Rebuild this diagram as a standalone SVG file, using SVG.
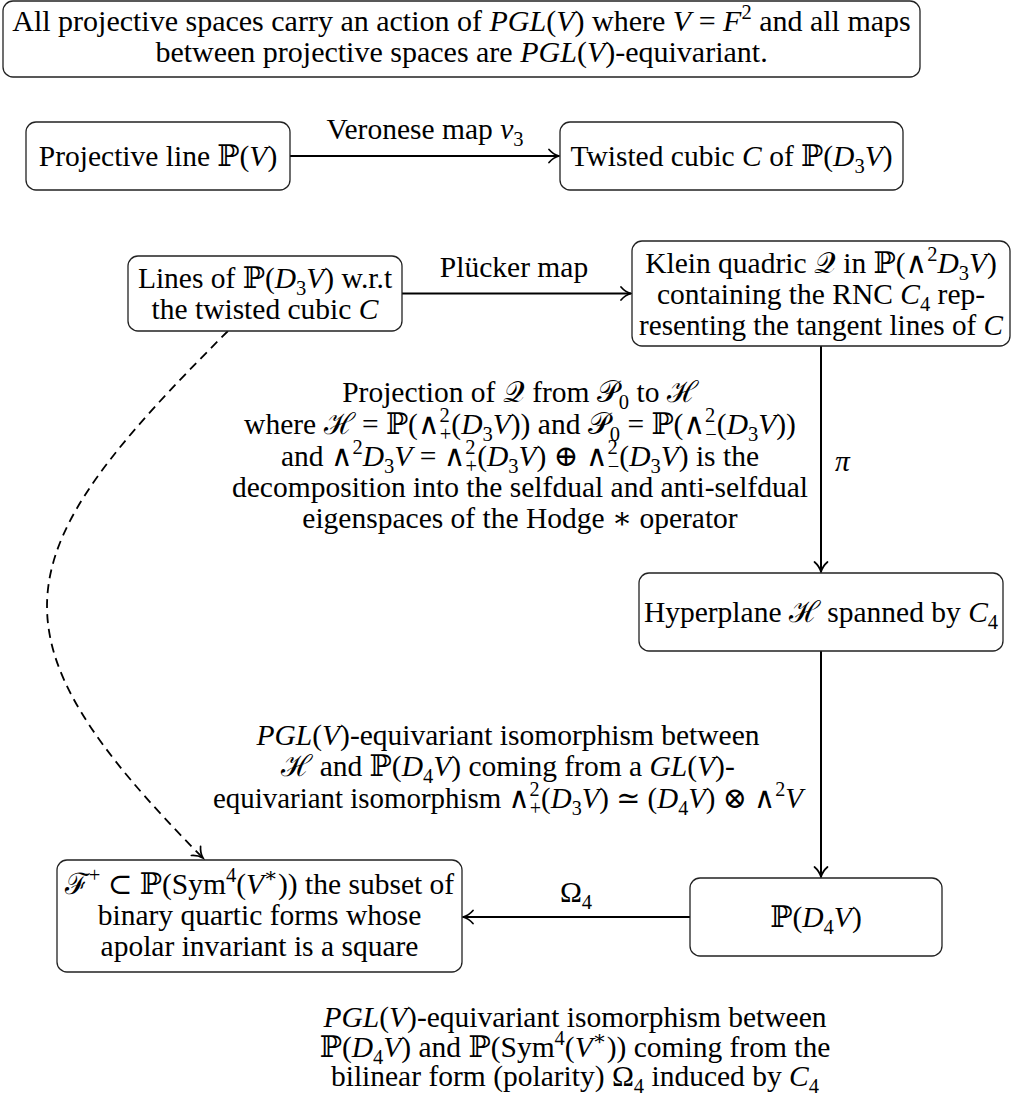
<svg xmlns="http://www.w3.org/2000/svg" width="1012" height="1097" viewBox="0 0 1012 1097" font-family="'Liberation Serif', 'DejaVu Serif', serif">
<defs>
<style>
text{font-family:"Liberation Serif","DejaVu Serif",serif;font-size:29.5px;fill:#000;text-anchor:middle}
.i{font-style:italic}
.s{font-size:20.5px}
.box{fill:#fff;stroke:#222;stroke-width:1.3}
.c{fill:none;stroke:#000;stroke-width:2}
.d{fill:none;stroke:#000;stroke-width:1.8;stroke-dasharray:9 6}
</style>
<marker id="ah" viewBox="-13 -8 16 16" refX="0" refY="0" markerWidth="16" markerHeight="16" markerUnits="userSpaceOnUse" orient="auto">
<path d="M-10,-6.5 C-7,-3 -2.5,-0.7 0,0 C-2.5,0.7 -7,3 -10,6.5" fill="none" stroke="#000" stroke-width="1.7" stroke-dasharray="none" stroke-linecap="round"/>
</marker>
</defs>
<rect width="1012" height="1097" fill="#fff"/>

<g id="connectors">
<path class="c" d="M290,156 H559" marker-end="url(#ah)"/>
<path class="c" d="M402,293.5 H631" marker-end="url(#ah)"/>
<path class="c" d="M821,346 V572" marker-end="url(#ah)"/>
<path class="c" d="M821,651 V877" marker-end="url(#ah)"/>
<path class="c" d="M690,917 H463" marker-end="url(#ah)"/>
<path class="d" d="M228,331 C3,555 -20,633 203,858" marker-end="url(#ah)"/>
<text x="425" y="139">Veronese map <tspan class="i">ν</tspan><tspan class="s" dy="7">3</tspan></text>
<text x="514" y="277">Plücker map</text>
<text x="835" y="471" class="i" style="text-anchor:start">π</text>
<text x="576" y="902">Ω<tspan class="s" dy="7">4</tspan></text>
<g id="label-projection">
<text x="520" y="402">Projection of 𝒬 from 𝒫<tspan class="s" dy="7">0</tspan><tspan dy="-7"> to ℋ</tspan></text>
<text x="520" y="434">where ℋ = ℙ(∧<tspan class="s" dy="-12">2</tspan><tspan class="s" dx="-10" dy="19">+</tspan><tspan dy="-7">(</tspan><tspan class="i">D</tspan><tspan class="s" dy="7">3</tspan><tspan class="i" dy="-7">V</tspan>)) and 𝒫<tspan class="s" dy="7">0</tspan><tspan dy="-7"> = ℙ(∧</tspan><tspan class="s" dy="-12">2</tspan><tspan class="s" dx="-10" dy="19">−</tspan><tspan dy="-7">(</tspan><tspan class="i">D</tspan><tspan class="s" dy="7">3</tspan><tspan class="i" dy="-7">V</tspan>))</text>
<text x="520" y="466">and ∧<tspan class="s" dy="-12">2</tspan><tspan class="i" dy="12">D</tspan><tspan class="s" dy="7">3</tspan><tspan class="i" dy="-7">V</tspan> = ∧<tspan class="s" dy="-12">2</tspan><tspan class="s" dx="-10" dy="19">+</tspan><tspan dy="-7">(</tspan><tspan class="i">D</tspan><tspan class="s" dy="7">3</tspan><tspan class="i" dy="-7">V</tspan>) ⊕ ∧<tspan class="s" dy="-12">2</tspan><tspan class="s" dx="-10" dy="19">−</tspan><tspan dy="-7">(</tspan><tspan class="i">D</tspan><tspan class="s" dy="7">3</tspan><tspan class="i" dy="-7">V</tspan>) is the</text>
<text x="520" y="497">decomposition into the selfdual and anti-selfdual</text>
<text x="520" y="528">eigenspaces of the Hodge ∗ operator</text>
</g>
<g id="label-iso">
<text x="508" y="745"><tspan class="i">PGL</tspan>(<tspan class="i">V</tspan>)-equivariant isomorphism between</text>
<text x="508" y="776">ℋ and ℙ(<tspan class="i">D</tspan><tspan class="s" dy="7">4</tspan><tspan class="i" dy="-7">V</tspan>) coming from a <tspan class="i">GL</tspan>(<tspan class="i">V</tspan>)-</text>
<text x="508" y="808" textLength="590" lengthAdjust="spacingAndGlyphs">equivariant isomorphism ∧<tspan class="s" dy="-12">2</tspan><tspan class="s" dx="-10" dy="19">+</tspan><tspan dy="-7">(</tspan><tspan class="i">D</tspan><tspan class="s" dy="7">3</tspan><tspan class="i" dy="-7">V</tspan>) ≃ (<tspan class="i">D</tspan><tspan class="s" dy="7">4</tspan><tspan class="i" dy="-7">V</tspan>) ⊗ ∧<tspan class="s" dy="-12">2</tspan><tspan class="i" dy="12">V</tspan></text>
</g>
<g id="label-polarity">
<text x="575" y="1027"><tspan class="i">PGL</tspan>(<tspan class="i">V</tspan>)-equivariant isomorphism between</text>
<text x="575" y="1057">ℙ(<tspan class="i">D</tspan><tspan class="s" dy="7">4</tspan><tspan class="i" dy="-7">V</tspan>) and ℙ(Sym<tspan class="s" dy="-12">4</tspan><tspan dy="12">(</tspan><tspan class="i">V</tspan><tspan class="s" dy="-12">∗</tspan><tspan dy="12">)) coming from the</tspan></text>
<text x="575" y="1086">bilinear form (polarity) Ω<tspan class="s" dy="7">4</tspan><tspan dy="-7"> induced by </tspan><tspan class="i">C</tspan><tspan class="s" dy="7">4</tspan></text>
</g>
</g>

<g id="note">
<rect class="box" x="3" y="1" width="917" height="76" rx="10"/>
<text x="461.5" y="31" style="font-size:30px">All projective spaces carry an action of <tspan class="i">PGL</tspan>(<tspan class="i">V</tspan>) where <tspan class="i">V</tspan> = <tspan class="i">F</tspan><tspan class="s" dy="-12">2</tspan><tspan dy="12"> and all maps</tspan></text>
<text x="461.5" y="62" style="font-size:30px">between projective spaces are <tspan class="i">PGL</tspan>(<tspan class="i">V</tspan>)-equivariant.</text>
</g>

<g id="projective-line">
<rect class="box" x="26" y="122" width="264" height="68" rx="10"/>
<text x="158" y="166">Projective line ℙ(<tspan class="i">V</tspan>)</text>
</g>

<g id="twisted-cubic">
<rect class="box" x="560" y="122" width="343" height="68" rx="10"/>
<text x="731.5" y="166">Twisted cubic <tspan class="i">C</tspan> of ℙ(<tspan class="i">D</tspan><tspan class="s" dy="7">3</tspan><tspan class="i" dy="-7">V</tspan>)</text>
</g>

<g id="lines">
<rect class="box" x="128" y="256" width="274" height="75" rx="10"/>
<text x="265" y="288">Lines of ℙ(<tspan class="i">D</tspan><tspan class="s" dy="7">3</tspan><tspan class="i" dy="-7">V</tspan>) w.r.t</text>
<text x="265" y="319">the twisted cubic <tspan class="i">C</tspan></text>
</g>

<g id="klein">
<rect class="box" x="632" y="241" width="378" height="105" rx="10"/>
<text x="821" y="273">Klein quadric 𝒬 in ℙ(∧<tspan class="s" dy="-12">2</tspan><tspan class="i" dy="12">D</tspan><tspan class="s" dy="7">3</tspan><tspan class="i" dy="-7">V</tspan>)</text>
<text x="821" y="304">containing the RNC <tspan class="i">C</tspan><tspan class="s" dy="7">4</tspan><tspan dy="-7"> rep-</tspan></text>
<text x="821" y="335" textLength="364" lengthAdjust="spacingAndGlyphs">resenting the tangent lines of <tspan class="i">C</tspan></text>
</g>

<g id="hyperplane">
<rect class="box" x="639" y="573" width="364" height="78" rx="10"/>
<text x="821" y="622">Hyperplane ℋ spanned by <tspan class="i">C</tspan><tspan class="s" dy="7">4</tspan></text>
</g>

<g id="pd4v">
<rect class="box" x="690" y="878" width="252" height="78" rx="10"/>
<text x="816" y="927">ℙ(<tspan class="i">D</tspan><tspan class="s" dy="7">4</tspan><tspan class="i" dy="-7">V</tspan>)</text>
</g>

<g id="fplus">
<rect class="box" x="57" y="860" width="405" height="112" rx="10"/>
<text x="259.5" y="894">ℱ<tspan class="s" dy="-12">+</tspan><tspan dy="12"> ⊂ ℙ(Sym</tspan><tspan class="s" dy="-12">4</tspan><tspan dy="12">(</tspan><tspan class="i">V</tspan><tspan class="s" dy="-12">∗</tspan><tspan dy="12">)) the subset of</tspan></text>
<text x="259.5" y="925">binary quartic forms whose</text>
<text x="259.5" y="956">apolar invariant is a square</text>
</g>
</svg>
